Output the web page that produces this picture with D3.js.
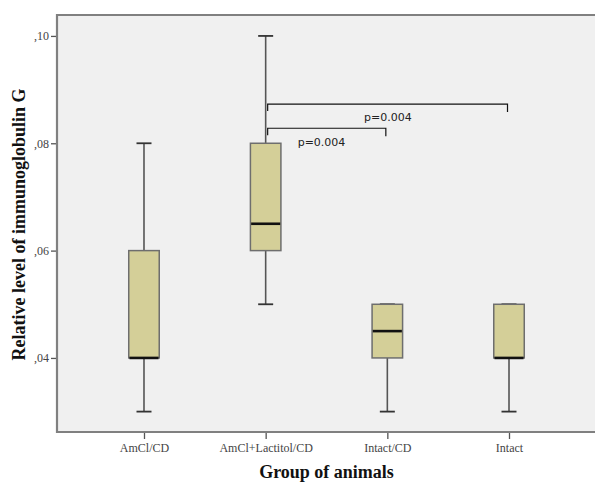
<!DOCTYPE html>
<html><head><meta charset="utf-8">
<script src="https://cdn.jsdelivr.net/npm/d3@7"></script>
<style>body{margin:0;background:#fff}svg{display:block}</style>
</head><body>
<svg id="c" width="595" height="483"></svg>
<script>
const groups = ["AmCl/CD","AmCl+Lactitol/CD","Intact/CD","Intact"];
const minV    = [0.03, 0.05, 0.03, 0.03];
const q1V     = [0.04, 0.06, 0.04, 0.04];
const medV    = [0.04, 0.065, 0.045, 0.04];
const q3V     = [0.06, 0.08, 0.05, 0.05];
const maxV    = [0.08, 0.10, 0.05, 0.05];
const yTicks  = [0.04, 0.06, 0.08, 0.10];
const brackets = [
  {from:"AmCl+Lactitol/CD", to:"Intact", level:0.0873, label:"p=0.004"},
  {from:"AmCl+Lactitol/CD", to:"Intact/CD", level:0.0828, label:"p=0.004"}
];

const svg = d3.select("#c");
const L=57, R=596, T=15, B=432;
const x = d3.scalePoint().domain(groups).range([L,R]).padding(0.715);
const y = d3.scaleLinear().domain([0.0262,0.1039]).range([B,T]);

svg.append("rect").attr("x",L).attr("y",T).attr("width",R-L).attr("height",B-T).attr("fill","#f0f0f0");

// boxes
const boxW=30.5, capW=15;
groups.forEach((g,i)=>{
  const cx=x(g);
  const gg=svg.append("g");
  gg.append("line").attr("x1",cx).attr("x2",cx).attr("y1",y(maxV[i])).attr("y2",y(q3V[i])).attr("stroke","#555").attr("stroke-width",1.6);
  gg.append("line").attr("x1",cx).attr("x2",cx).attr("y1",y(q1V[i])).attr("y2",y(minV[i])).attr("stroke","#555").attr("stroke-width",1.6);
  gg.append("line").attr("x1",cx-capW/2).attr("x2",cx+capW/2).attr("y1",y(maxV[i])).attr("y2",y(maxV[i])).attr("stroke","#333").attr("stroke-width",1.8);
  gg.append("line").attr("x1",cx-capW/2).attr("x2",cx+capW/2).attr("y1",y(minV[i])).attr("y2",y(minV[i])).attr("stroke","#333").attr("stroke-width",1.8);
  gg.append("rect").attr("x",cx-boxW/2).attr("y",y(q3V[i])).attr("width",boxW).attr("height",y(q1V[i])-y(q3V[i]))
    .attr("fill","#d4cf98").attr("stroke","#6e6e6e").attr("stroke-width",1.5);
  gg.append("line").attr("x1",cx-boxW/2+0.7).attr("x2",cx+boxW/2-0.7).attr("y1",y(medV[i])).attr("y2",y(medV[i])).attr("stroke","#111").attr("stroke-width",2.6);
});

// brackets
brackets.forEach(b=>{
  const x1=x(b.from)+2, x2=x(b.to)-1.5, yy=y(b.level);
  svg.append("path").attr("d",`M${x1},${yy+7}V${yy}H${x2}V${yy+8}`).attr("fill","none").attr("stroke","#111").attr("stroke-width",1.2);
});
svg.append("text").attr("x",(x("AmCl+Lactitol/CD")+x("Intact"))/2+0.5).attr("y",y(brackets[0].level)+17)
  .attr("text-anchor","middle").attr("font-family","DejaVu Sans").attr("font-size",11).attr("fill","#222").text(brackets[0].label);
svg.append("text").attr("x",x("AmCl+Lactitol/CD")+32).attr("y",y(brackets[1].level)+18)
  .attr("font-family","DejaVu Sans").attr("font-size",11).attr("fill","#222").text(brackets[1].label);

// axes
const fmt = d=>d3.format(".2f")(d).replace("0.",",");
const ya = svg.append("g").attr("transform",`translate(${L},0)`).call(d3.axisLeft(y).tickValues(yTicks).tickFormat(fmt).tickSize(6).tickPadding(2));
ya.select(".domain").remove();
ya.selectAll("line").attr("stroke","#555").attr("stroke-width",1.3);
ya.selectAll("text").attr("font-family","Liberation Serif").attr("font-size",12).attr("fill","#444");

const xa = svg.append("g").attr("transform",`translate(0,${B})`).call(d3.axisBottom(x).tickSize(7).tickPadding(4));
xa.select(".domain").remove();
xa.selectAll("line").attr("stroke","#555").attr("stroke-width",1.3);
xa.selectAll("text").attr("font-family","Liberation Serif").attr("font-size",12).attr("fill","#444");

// frame
svg.append("path").attr("d",`M${R},${T}H${L}V${B}H${R}`).attr("fill","none").attr("stroke","#808080").attr("stroke-width",2.2);

svg.append("text").attr("x",(L+R)/2).attr("y",478).attr("text-anchor","middle")
  .attr("font-family","Liberation Serif").attr("font-weight","bold").attr("font-size",18).attr("fill","#111").text("Group of animals");
svg.append("text").attr("transform",`translate(25,${(T+B)/2+1}) rotate(-90)`).attr("text-anchor","middle")
  .attr("font-family","Liberation Serif").attr("font-weight","bold").attr("font-size",18).attr("fill","#111").text("Relative level of immunoglobulin G");
</script>
</body></html>
